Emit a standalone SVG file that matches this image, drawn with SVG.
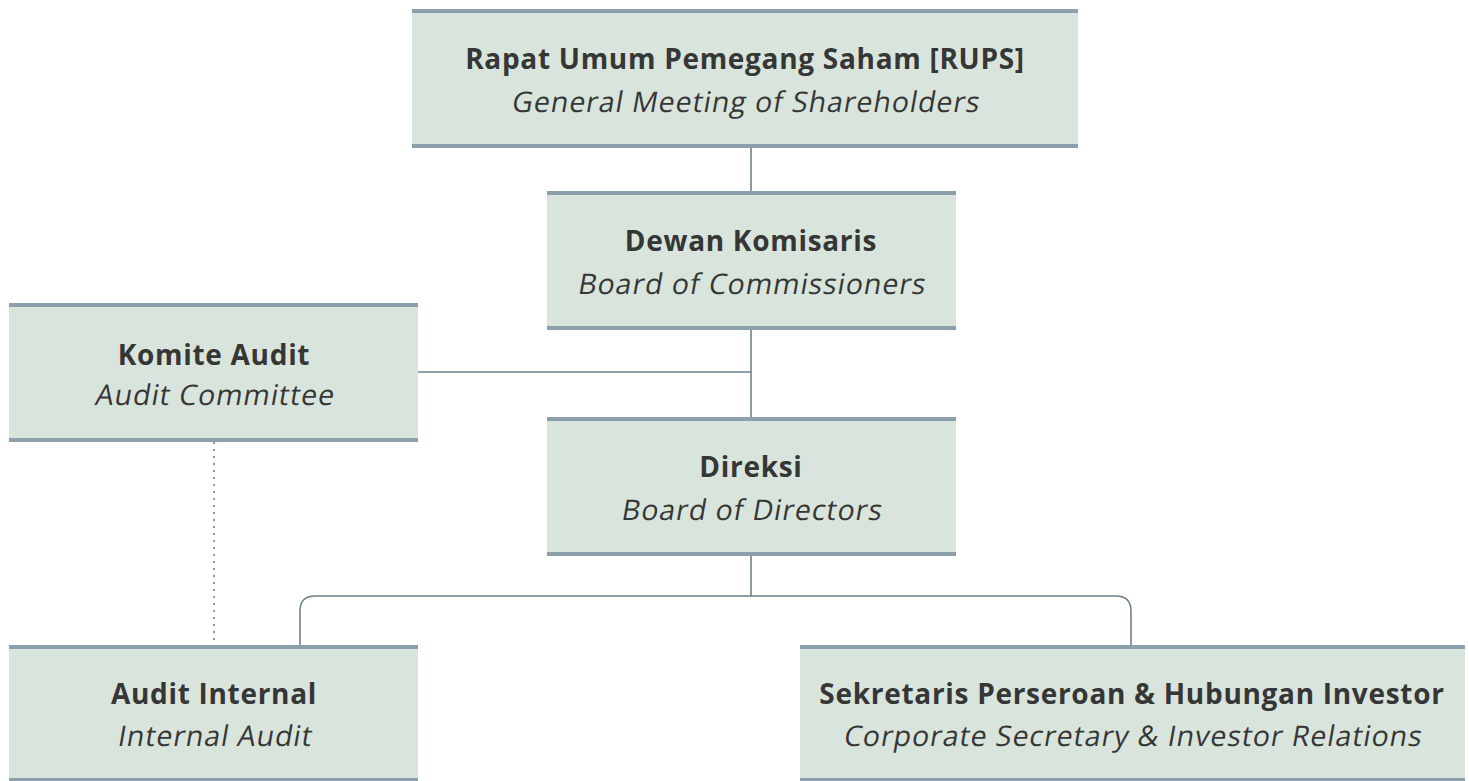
<svg xmlns="http://www.w3.org/2000/svg" width="1469" height="781" viewBox="0 0 1469 781">
<style>
.box{fill:#d9e5dc}
.bar{fill:#8ba0ac}
.t{font-family:"Open Sans","Liberation Sans",sans-serif;font-size:28px;fill:#363636;text-anchor:middle}
.b{font-weight:bold;letter-spacing:0.7px}
.i{font-weight:normal;font-size:28.5px;letter-spacing:0.95px}
.c{fill:none;stroke:#6e808a;stroke-width:1.6}
.d{fill:none;stroke:#6e808a;stroke-width:1.6;stroke-dasharray:2 5}
</style>
<rect width="1469" height="781" fill="#ffffff"/>
<g id="connectors">
<path class="c" d="M751 148V192"/>
<path class="c" d="M751 329V418"/>
<path class="c" d="M418 372H751"/>
<path class="c" d="M751 556V596"/>
<path class="c" d="M300 646V611Q300 596 315 596H1116Q1131 596 1131 611V646"/>
<path class="d" d="M214 442V645"/>
</g>
<g id="rups">
<rect class="box" x="412" y="9" width="666" height="139"/>
<rect class="bar" x="412" y="9" width="666" height="4"/>
<rect class="bar" x="412" y="144" width="666" height="4"/>
<text class="t b" x="745" y="69">Rapat Umum Pemegang Saham [RUPS]</text>
<text class="t i" transform="translate(745 112) skewX(-10)">General Meeting of Shareholders</text>
</g>
<g id="dewan">
<rect class="box" x="547" y="191" width="409" height="139"/>
<rect class="bar" x="547" y="191" width="409" height="4"/>
<rect class="bar" x="547" y="326" width="409" height="4"/>
<text class="t b" x="751" y="251">Dewan Komisaris</text>
<text class="t i" transform="translate(751 294) skewX(-10)">Board of Commissioners</text>
</g>
<g id="komite">
<rect class="box" x="9" y="303" width="409" height="139"/>
<rect class="bar" x="9" y="303" width="409" height="4"/>
<rect class="bar" x="9" y="438" width="409" height="4"/>
<text class="t b" x="214" y="365">Komite Audit</text>
<text class="t i" transform="translate(214 405) skewX(-10)">Audit Committee</text>
</g>
<g id="direksi">
<rect class="box" x="547" y="417" width="409" height="139"/>
<rect class="bar" x="547" y="417" width="409" height="4"/>
<rect class="bar" x="547" y="552" width="409" height="4"/>
<text class="t b" x="751" y="477">Direksi</text>
<text class="t i" transform="translate(751 520) skewX(-10)">Board of Directors</text>
</g>
<g id="audit-internal">
<rect class="box" x="9" y="645" width="409" height="139"/>
<rect class="bar" x="9" y="645" width="409" height="4"/>
<rect class="bar" x="9" y="778" width="409" height="4"/>
<text class="t b" x="214" y="704">Audit Internal</text>
<text class="t i" transform="translate(214 746) skewX(-10)">Internal Audit</text>
</g>
<g id="sekretaris">
<rect class="box" x="800" y="645" width="665" height="139"/>
<rect class="bar" x="800" y="645" width="665" height="4"/>
<rect class="bar" x="800" y="778" width="665" height="4"/>
<text class="t b" x="1132" y="704">Sekretaris Perseroan &amp; Hubungan Investor</text>
<text class="t i" transform="translate(1132 746) skewX(-10)">Corporate Secretary &amp; Investor Relations</text>
</g>
</svg>
